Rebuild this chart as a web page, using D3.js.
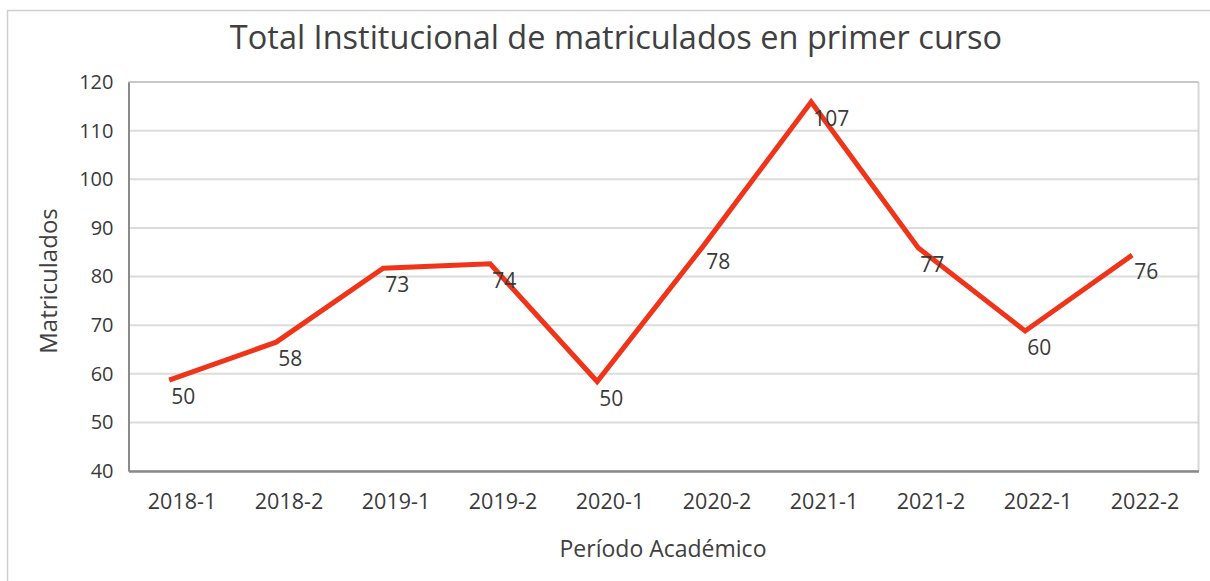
<!DOCTYPE html>
<html>
<head>
<meta charset="utf-8">
<script src="https://d3js.org/d3.v7.min.js"></script>
<style>
  body { margin: 0; background: #fff; }
  text { font-family: "Open Sans", sans-serif; }
</style>
</head>
<body>
<script>
// periods on the x axis
const periods = ["2018-1", "2018-2", "2019-1", "2019-2", "2020-1", "2020-2", "2021-1", "2021-2", "2022-1", "2022-2"];
// where the red line sits
const lineValues = [58.7, 66.5, 81.7, 82.6, 58.4, 86.5, 115.9, 85.9, 68.8, 84.4];
// the numbers printed beside each point
const pointLabels = [50, 58, 73, 74, 50, 78, 107, 77, 60, 76];
const yTicks = [40, 50, 60, 70, 80, 90, 100, 110, 120];

function draw() {
	var width = 1210, height = 581;
	var pLeft = 128.5, pRight = 1198.5, pTop = 82, pBottom = 471;

	var svg = d3.select("body").append("svg")
		.attr("width", width)
		.attr("height", height);

	// outer chart frame
	svg.append("rect")
		.attr("x", 7.5).attr("y", 10.5)
		.attr("width", 1230).attr("height", 600)
		.attr("fill", "none")
		.attr("stroke", "#cfcfcf")
		.attr("stroke-width", 1.5);

	var x = d3.scaleBand().domain(periods).range([pLeft, pRight]);
	var y = d3.scaleLinear().domain([40, 120]).range([pBottom, pTop]);

	// point position inside each band (line sits a bit left of the label centre)
	function px(p) { return x(p) + x.bandwidth() * 0.38; }

	// gridlines
	svg.append("g")
		.selectAll("line")
		.data(yTicks)
		.enter()
		.append("line")
			.attr("x1", pLeft).attr("x2", pRight)
			.attr("y1", function(d) { return y(d); })
			.attr("y2", function(d) { return y(d); })
			.attr("stroke", "#dcdcdc")
			.attr("stroke-width", 2);

	// plot frame: top/right light, left/bottom darker
	svg.append("line").attr("x1", pRight).attr("x2", pRight).attr("y1", pTop).attr("y2", pBottom)
		.attr("stroke", "#d6d6d6").attr("stroke-width", 2);
	svg.append("line").attr("x1", pLeft).attr("x2", pRight).attr("y1", pTop).attr("y2", pTop)
		.attr("stroke", "#c8c8c8").attr("stroke-width", 2);

	// y axis
	var yAxis = svg.append("g")
		.attr("transform", "translate(" + pLeft + ",0)")
		.call(d3.axisLeft(y).tickValues(yTicks).tickSize(0).tickPadding(15));
	yAxis.select(".domain").attr("stroke", "#8a8a8a").attr("stroke-width", 2);
	yAxis.selectAll("text").attr("font-size", 20).attr("fill", "#3a3a3a")
		.style("font-family", "Open Sans");

	// x axis
	var xAxis = svg.append("g")
		.attr("transform", "translate(0," + pBottom + ")")
		.call(d3.axisBottom(x).tickSize(0).tickPadding(23));
	xAxis.select(".domain").attr("stroke", "#8a8a8a").attr("stroke-width", 2.5);
	xAxis.selectAll("text").attr("font-size", 21.5).attr("fill", "#3a3a3a")
		.style("font-family", "Open Sans");

	// the line
	var line = d3.line()
		.x(function(d, i) { return px(periods[i]); })
		.y(function(d) { return y(d); });

	svg.append("path")
		.datum(lineValues)
		.attr("d", line)
		.attr("fill", "none")
		.attr("stroke", "#f0341a")
		.attr("stroke-width", 5)
		.attr("stroke-linejoin", "miter");

	// data labels
	svg.append("g")
		.selectAll("text")
		.data(pointLabels)
		.enter()
		.append("text")
			.attr("x", function(d, i) { return px(periods[i]) + 2; })
			.attr("y", function(d, i) { return y(lineValues[i]) + 24; })
			.attr("font-size", 21)
			.attr("fill", "#3a3a3a")
			.text(function(d) { return d; });

	// title
	svg.append("text")
		.attr("x", 616).attr("y", 49)
		.attr("text-anchor", "middle")
		.attr("font-size", 32.5)
		.attr("fill", "#404040")
		.text("Total Institucional de matriculados en primer curso");

	// axis titles
	svg.append("text")
		.attr("transform", "translate(57,281) rotate(-90)")
		.attr("text-anchor", "middle")
		.attr("font-size", 24)
		.attr("fill", "#404040")
		.text("Matriculados");

	svg.append("text")
		.attr("x", 663).attr("y", 557)
		.attr("text-anchor", "middle")
		.attr("font-size", 23)
		.attr("fill", "#404040")
		.text("Período Académico");
}
draw();
</script>
</body>
</html>
